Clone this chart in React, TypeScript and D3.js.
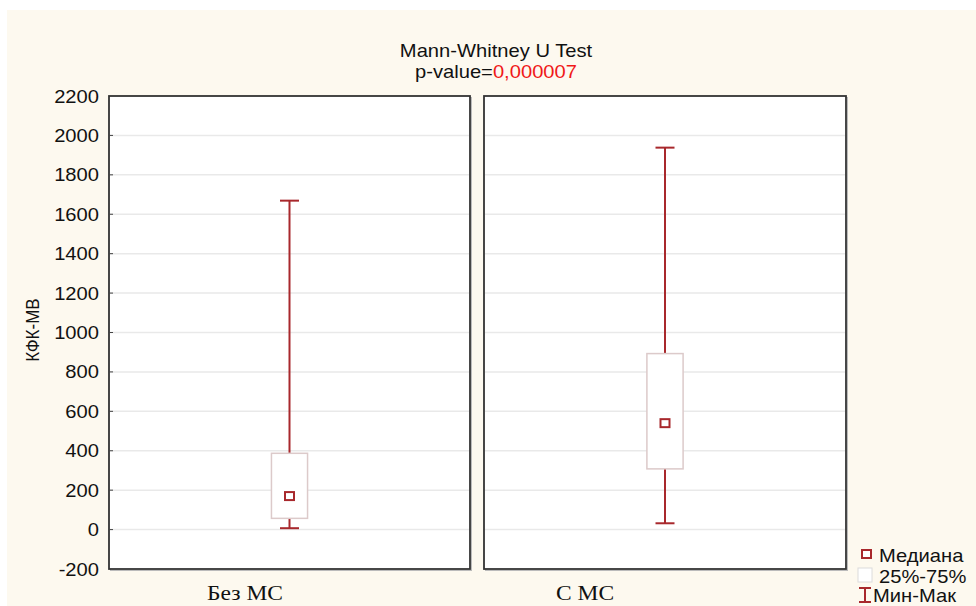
import * as d3 from "d3";

// values
const groups = ["Без МС", "С МС"];
const minVals = [7, 32];
const q1Vals = [57, 308];
const medianVals = [170, 540];
const q3Vals = [387, 893];
const maxVals = [1669, 1938];
const yTicks = [-200, 0, 200, 400, 600, 800, 1000, 1200, 1400, 1600, 1800, 2000, 2200];
const legendLabels = ["Медиана", "25%-75%", "Мин-Мак"];

const W = 976, H = 606;
const panelTop = 96, panelBottom = 569;
const panels = [
  { x0: 109, x1: 470, labelX: 245 },
  { x0: 484, x1: 846, labelX: 585 },
];
const whisker = "#a8282c";
const boxStroke = "#dccaca";
const sans = "'Liberation Sans', Arial, sans-serif";
const serif = "'Liberation Serif', 'Times New Roman', serif";
const SX = 1.12; // the picture's text is a bit wider than plain Arial

const y = d3.scaleLinear().domain([-200, 2200]).range([panelBottom, panelTop]);

// text stretched horizontally around its anchor point
const T = ({ x, y, children, anchor = "start", size = 18, family = sans }: any) => (
  <g transform={`translate(${x},${y}) scale(${SX},1)`}>
    <text textAnchor={anchor} fontFamily={family} fontSize={size} fill="#111">{children}</text>
  </g>
);

export default function App() {
  const data = groups.map((g, i) => ({
    g, min: minVals[i], q1: q1Vals[i], med: medianVals[i], q3: q3Vals[i], max: maxVals[i],
  }));

  return (
    <svg width={W} height={H} style={{ position: "absolute", left: 0, top: 0 }}>
      <rect x={0} y={0} width={W} height={H} fill="#fff" />
      <rect x={7} y={10} width={W - 7} height={H - 10} fill="#fdf9ef" />

      <T x={496} y={57} anchor="middle">Mann-Whitney U Test</T>
      <T x={496} y={78} anchor="middle">
        p-value=<tspan fill="#f01818">0,000007</tspan>
      </T>

      {yTicks.map(t => (
        <T key={t} x={99} y={y(t) + 6.5} anchor="end">{t}</T>
      ))}
      <g transform={`translate(39,330) rotate(-90) scale(1,${SX})`}>
        <text textAnchor="middle" fontFamily={sans} fontSize={17} fill="#111">КФК-МВ</text>
      </g>

      {data.map((d, i) => {
        const p = panels[i];
        const cx = (p.x0 + p.x1) / 2;
        const bw = (p.x1 - p.x0) * 0.1;
        const cw = 19;
        return (
          <g key={d.g}>
            <rect x={p.x0 + 1.5} y={panelTop + 1.5} width={p.x1 - p.x0} height={panelBottom - panelTop} fill="none" stroke="#bbb" strokeWidth={1} />
            <rect x={p.x0} y={panelTop} width={p.x1 - p.x0} height={panelBottom - panelTop} fill="#fff" stroke="#333" strokeWidth={1.8} />
            {yTicks.slice(1, -1).map(t => (
              <g key={t}>
                <line x1={p.x0 + 1} x2={p.x1 - 1} y1={y(t)} y2={y(t)} stroke="#e9e9e9" strokeWidth={1.5} />
                {i === 0 && <line x1={p.x0} x2={p.x0 + 4} y1={y(t)} y2={y(t)} stroke="#444" strokeWidth={1} />}
              </g>
            ))}
            <line x1={cx} x2={cx} y1={y(d.max)} y2={y(d.q3)} stroke={whisker} strokeWidth={2} />
            <line x1={cx} x2={cx} y1={y(d.q1)} y2={y(d.min)} stroke={whisker} strokeWidth={2} />
            <line x1={cx - cw / 2} x2={cx + cw / 2} y1={y(d.max)} y2={y(d.max)} stroke={whisker} strokeWidth={2} />
            <line x1={cx - cw / 2} x2={cx + cw / 2} y1={y(d.min)} y2={y(d.min)} stroke={whisker} strokeWidth={2} />
            <rect x={cx - bw / 2} y={y(d.q3)} width={bw} height={y(d.q1) - y(d.q3)} fill="#fff" stroke={boxStroke} strokeWidth={1.5} />
            <rect x={cx - 4.5} y={y(d.med) - 4} width={9} height={8} fill="#fff" stroke={whisker} strokeWidth={2} />
            <T x={p.labelX} y={600} anchor="middle" size={21} family={serif}>{d.g}</T>
          </g>
        );
      })}

      {/* legend */}
      <rect x={862} y={550} width={9} height={8} fill="#fff" stroke={whisker} strokeWidth={2} />
      <T x={879} y={562}>{legendLabels[0]}</T>
      <rect x={858} y={568} width={14} height={14} fill="#fff" stroke="#dcdcdc" strokeWidth={1} />
      <T x={879} y={583}>{legendLabels[1]}</T>
      <line x1={865} x2={865} y1={588} y2={602} stroke={whisker} strokeWidth={2} />
      <line x1={859} x2={871} y1={588} y2={588} stroke={whisker} strokeWidth={2} />
      <line x1={859} x2={871} y1={602} y2={602} stroke={whisker} strokeWidth={2} />
      <T x={873} y={602}>{legendLabels[2]}</T>
    </svg>
  );
}
